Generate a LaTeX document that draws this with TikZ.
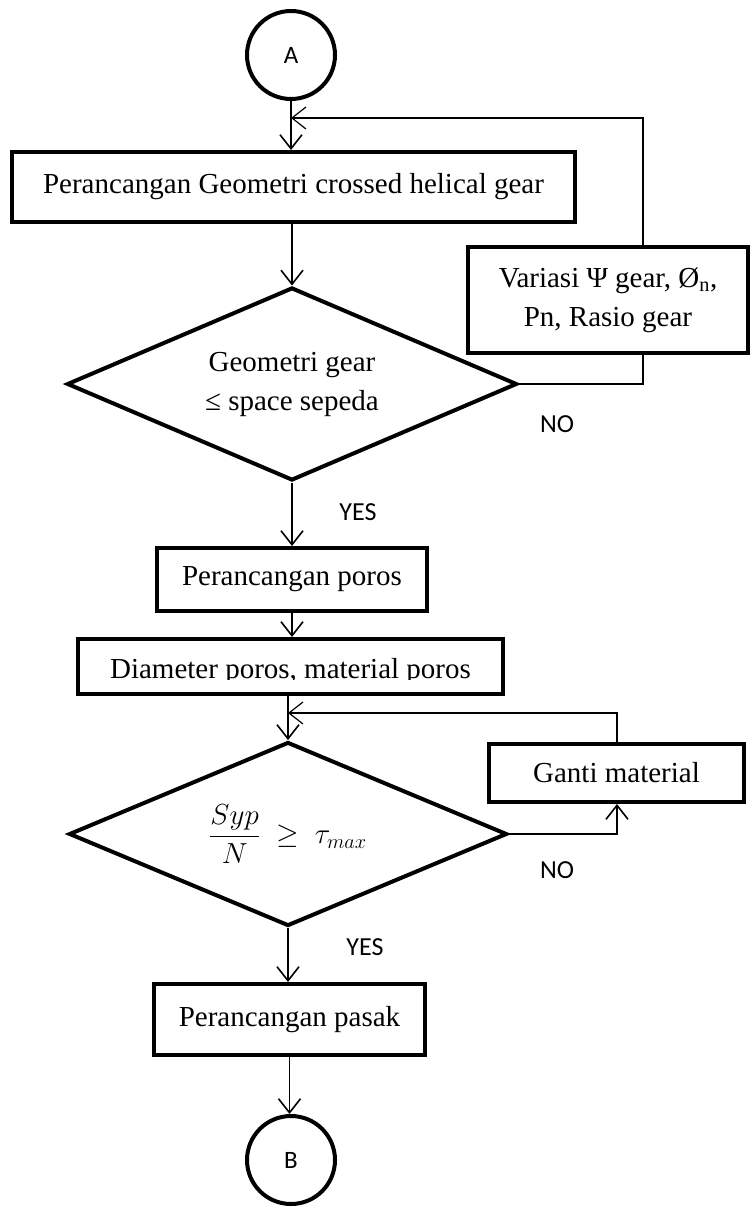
\RequirePackage{fix-cm}
\documentclass[tikz,border=0pt]{standalone}
\usepackage{fontspec}
\setmainfont{Liberation Serif}
\newfontfamily\labelfont{Carlito}
\usetikzlibrary{shapes.geometric,arrows.meta}

\begin{document}
\begin{tikzpicture}[x=1pt,y=-1pt,
  >={Straight Barb[length=14pt,width=22pt]},
  box/.style={draw,rectangle,line width=4pt,inner sep=0pt,align=center,
    font=\fontsize{29}{39}\selectfont},
  decision/.style={draw,diamond,line width=4pt,inner sep=0pt,align=center,
    font=\fontsize{29}{39}\selectfont},
  connector/.style={draw,circle,line width=4pt,minimum size=88pt,inner sep=0pt,
    font=\labelfont\fontsize{25}{30}\selectfont},
  flow/.style={line width=1.6pt,->},
  loopline/.style={line width=1.2pt},
  tag/.style={font=\labelfont\fontsize{26}{30}\selectfont}]

  % page frame
  \fill[white] (0,0) rectangle (751,1207);
  \useasboundingbox (0,0) rectangle (751,1207);

  % process nodes
  \node[connector] (A) at (291,55) {A};
  \node[box,minimum width=563pt,minimum height=70pt] (geo) at (293.5,187)
    {Perancangan Geometri crossed helical gear};
  \node[decision,minimum width=450pt,minimum height=193pt,aspect=2.33] (d1) at (292,384)
    {Geometri gear\\≤ space sepeda};
  \node[box,minimum width=280pt,minimum height=106pt] (var) at (608,300)
    {Variasi Ψ gear, Ø\textsubscript{n},\\Pn, Rasio gear};
  \node[box,minimum width=270pt,minimum height=63pt] (poros) at (292,579.5)
    {Perancangan poros};
  \node[box,minimum width=425pt,minimum height=55pt] (diam) at (290.5,666.5) {};
  \begin{scope}
    \clip (78,639) rectangle (503,679.5);
    \node[anchor=base,inner sep=0pt,font=\fontsize{29}{39}\selectfont] (diamtext)
      at (290.5,678) {Diameter poros, material poros};
  \end{scope}
  \node[decision,minimum width=438pt,minimum height=184pt,aspect=2.4] (d2) at (288,834)
    {$\displaystyle\frac{Syp}{N}\;\geq\;\tau_{max}$};
  \node[box,minimum width=255pt,minimum height=58pt] (ganti) at (616.5,773)
    {Ganti material};
  \node[box,minimum width=271pt,minimum height=71pt] (pasak) at (289.5,1019.5)
    {Perancangan pasak};
  \node[connector] (B) at (291,1160) {B};

  % bend points of the return loops
  \coordinate (r1) at (643,118);
  \coordinate (r2) at (617,713);

  % main flow
  \draw[flow] (A.south) -- (A.south |- geo.north);
  \draw[flow] (geo.south -| d1.north) -- (d1.north);
  \draw[flow] (d1.south) -- (d1.south |- poros.north);
  \draw[flow] (poros.south) -- (poros.south |- diam.north);
  \draw[flow] (diam.south -| d2.north) -- (d2.north);
  \draw[flow] (d2.south) -- (d2.south |- pasak.north);
  \draw[flow] (pasak.south) -- (pasak.south |- B.north);

  % first loop: NO branch through the gear variation
  \draw[loopline] (d1.east) -- (d1.east -| r1) -- (var.south -| r1);
  \draw[loopline,->] (var.north -| r1) -- (r1) -- (r1 -| A.south);

  % second loop: NO branch through the material change
  \draw[flow] (d2.east) -- (d2.east -| r2) -- (ganti.south -| r2);
  \draw[loopline,->] (ganti.north -| r2) -- (r2) -- (r2 -| d2.north);

  % branch labels
  \node[tag] (no1) at (557,424) {NO};
  \node[tag] (yes1) at (358,512) {YES};
  \node[tag] (no2) at (557,870) {NO};
  \node[tag] (yes2) at (365,947) {YES};
\end{tikzpicture}
\end{document}
